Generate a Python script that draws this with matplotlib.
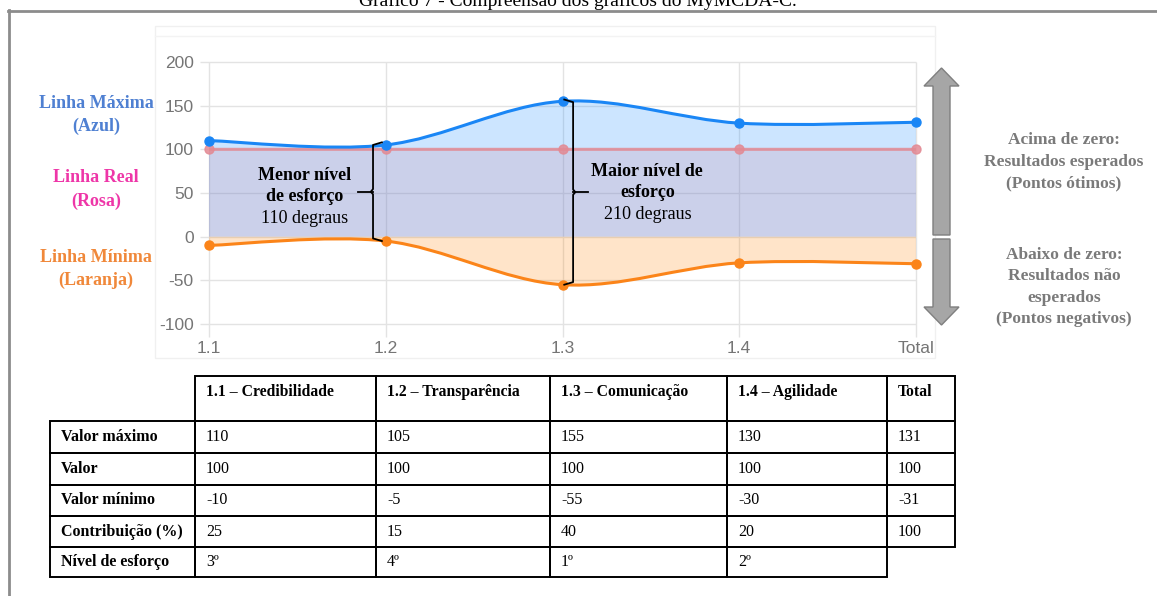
import numpy as np
import matplotlib.pyplot as plt
from matplotlib.path import Path
from matplotlib.patches import PathPatch, Rectangle, FancyArrow

# series values per criterion
categories = ["1.1", "1.2", "1.3", "1.4", "Total"]
max_line = [110, 105, 155, 130, 131]
real_line = [100, 100, 100, 100, 100]
min_line = [-10, -5, -55, -30, -31]
contribution = [25, 15, 40, 20, 100]
effort_level = ["3º", "4º", "1º", "2º"]
y_ticks = [-100, -50, 0, 50, 100, 150, 200]

table_header = ["1.1 – Credibilidade", "1.2 – Transparência", "1.3 – Comunicação",
                "1.4 – Agilidade", "Total"]
row_labels = ["Valor máximo", "Valor", "Valor mínimo", "Contribuição (%)", "Nível de esforço"]

SERIF = "Liberation Serif"
SANS = "Liberation Sans"
BLUE = "#1a86f5"
ORANGE = "#fb8419"
PINK = "#e38a94"
TICK_GRAY = "#757575"

W, H = 1157, 596

plt.rcParams["axes.unicode_minus"] = False


def smooth_path(xs, ys):
    # cubic bezier through every point, tangents from the neighbours
    verts = [(xs[0], ys[0])]
    codes = [Path.MOVETO]
    n = len(xs)
    for i in range(n - 1):
        a = max(i - 1, 0)
        b = min(i + 2, n - 1)
        c1 = (xs[i] + (xs[i + 1] - xs[a]) / 6, ys[i] + (ys[i + 1] - ys[a]) / 6)
        c2 = (xs[i + 1] - (xs[b] - xs[i]) / 6, ys[i + 1] - (ys[b] - ys[i]) / 6)
        verts += [c1, c2, (xs[i + 1], ys[i + 1])]
        codes += [Path.CURVE4] * 3
    return verts, codes


def area_path(xs, ys):
    verts, codes = smooth_path(xs, ys)
    verts = verts + [(xs[-1], 0), (xs[0], 0), (xs[0], ys[0])]
    codes = codes + [Path.LINETO, Path.LINETO, Path.CLOSEPOLY]
    return Path(verts, codes)


def brace(ax, x, top, bottom, hook, tick):
    # vertical curly bracket: hooks point towards the data point, tick away from it
    mid = (top + bottom) / 2
    ax.plot([x + hook, x, x, x - tick * 0.15, x, x, x + hook],
            [top, top - 3, mid + 3, mid, mid - 3, bottom + 3, bottom],
            color="black", lw=1.3, clip_on=False, zorder=6, solid_joinstyle="round")
    ax.plot([x, x - tick], [mid, mid], color="black", lw=1.3, clip_on=False, zorder=6)


fig = plt.figure(figsize=(W / 100, H / 100), dpi=100)

# page layer in pixel coordinates
page = fig.add_axes([0, 0, 1, 1])
page.set_xlim(0, W)
page.set_ylim(H, 0)
page.axis("off")

page.text(578, 6, "Gráfico 7 - Compreensão dos gráficos do MyMCDA-C.", ha="center",
          va="baseline", fontsize=14, family=SERIF)
page.plot([8, W], [10.5, 10.5], color="#8c8c8c", lw=2)
page.plot([8.5, 8.5], [10, H], color="#8c8c8c", lw=2)

# faint frame of the chart screenshot
page.add_patch(Rectangle((155, 26), 780, 332, fill=False, ec="#f0f0f0", lw=1))
page.plot([155, 935], [36, 36], color="#f3f3f3", lw=1)

# side labels
left_labels = [("Linha Máxima", "(Azul)", "#4f80d2", 103),
               ("Linha Real", "(Rosa)", "#ee36a8", 178),
               ("Linha Mínima", "(Laranja)", "#f0883a", 257)]
for l1, l2, col, y in left_labels:
    page.text(96, y, l1, ha="center", va="center", color=col, fontsize=13,
              fontweight="bold", family=SERIF)
    page.text(96, y + 23, l2, ha="center", va="center", color=col, fontsize=13,
              fontweight="bold", family=SERIF)

right_top = ["Acima de zero:", "Resultados esperados", "(Pontos ótimos)"]
right_bottom = ["Abaixo de zero:", "Resultados não", "esperados", "(Pontos negativos)"]
for i, s in enumerate(right_top):
    page.text(1064, 140 + 21.5 * i, s, ha="center", va="center", color="#7a7a7a",
              fontsize=12.5, fontweight="bold", family=SERIF)
for i, s in enumerate(right_bottom):
    page.text(1064, 255 + 21.3 * i, s, ha="center", va="center", color="#7a7a7a",
              fontsize=12.5, fontweight="bold", family=SERIF)

# gray arrows above / below zero
page.add_patch(FancyArrow(941.5, 235, 0, -167, width=17, head_width=35, head_length=18,
                          length_includes_head=True, fc="#a6a6a6", ec="#7f7f7f", lw=1))
page.add_patch(FancyArrow(941.5, 239, 0, 86, width=17, head_width=35, head_length=18,
                          length_includes_head=True, fc="#a6a6a6", ec="#7f7f7f", lw=1))

# table
col_x = [50, 195, 376, 550, 727, 887, 955]
row_y = [376, 421, 453, 485, 516, 547, 577]
body = [max_line, real_line, min_line, contribution, effort_level]
for j, head in enumerate(table_header):
    page.add_patch(Rectangle((col_x[j + 1], row_y[0]), col_x[j + 2] - col_x[j + 1],
                             row_y[1] - row_y[0], fill=False, ec="black", lw=1.4))
    page.text(col_x[j + 1] + 11, row_y[0] + 16, head, ha="left", va="center",
              fontsize=11.3, fontweight="bold", family=SERIF)
for i, label in enumerate(row_labels):
    y0, y1 = row_y[i + 1], row_y[i + 2]
    ym = (y0 + y1) / 2
    page.add_patch(Rectangle((col_x[0], y0), col_x[1] - col_x[0], y1 - y0,
                             fill=False, ec="black", lw=1.4))
    page.text(col_x[0] + 11, ym, label, ha="left", va="center", fontsize=11.5,
              fontweight="bold", family=SERIF)
    for j, v in enumerate(body[i]):
        page.add_patch(Rectangle((col_x[j + 1], y0), col_x[j + 2] - col_x[j + 1], y1 - y0,
                                 fill=False, ec="black", lw=1.4))
        page.text(col_x[j + 1] + 11, ym, str(v), ha="left", va="center", fontsize=11.5,
                  family=SERIF)

# chart
ax = fig.add_axes([209 / W, (H - 324) / H, 707 / W, 262 / H])
ax.patch.set_alpha(0)
x = np.arange(len(categories))
ax.set_xlim(0, len(categories) - 1)
ax.set_ylim(-100, 200)
for s in ax.spines.values():
    s.set_visible(False)

ax.hlines(y_ticks, -0.05, x[-1], color="#e3e3e3", lw=1, zorder=0, clip_on=False)
ax.vlines(x, -115, 200, color="#e3e3e3", lw=1, zorder=0, clip_on=False)

ax.add_patch(PathPatch(area_path(x, max_line), fc="#1a8cff", alpha=0.22, ec="none", zorder=1))
ax.add_patch(PathPatch(area_path(x, real_line), fc="#c87d96", alpha=0.2, ec="none", zorder=1))
ax.add_patch(PathPatch(area_path(x, min_line), fc="#ff8000", alpha=0.21, ec="none", zorder=1))

for vals, col, a in [(real_line, PINK, 0.85), (max_line, BLUE, 1), (min_line, ORANGE, 1)]:
    v, c = smooth_path(x, vals)
    ax.add_patch(PathPatch(Path(v, c), fill=False, ec=col, lw=2.2, alpha=a, zorder=3))
    ax.plot(x, vals, "o", color=col, ms=6.5, alpha=a, zorder=4, clip_on=False)

ax.set_xticks(x, categories)
ax.set_yticks(y_ticks)
ax.tick_params(length=0, labelcolor=TICK_GRAY, labelsize=12.5)
ax.tick_params(axis="x", pad=12)
ax.tick_params(axis="y", pad=11)
for lab in ax.get_xticklabels() + ax.get_yticklabels():
    lab.set_family(SANS)

# effort brackets: smallest (1.2) and largest (1.3) spans between max and min
spans = [mx - mn for mx, mn in zip(max_line[:4], min_line[:4])]
lo, hi = int(np.argmin(spans)), int(np.argmax(spans))
brace(ax, lo - 0.072, max_line[lo] + 3, min_line[lo], 0.05, 0.085)
brace(ax, hi + 0.06, max_line[hi] + 2, min_line[hi], -0.05, -0.085)

ax.text(0.54, 69.5, "Menor nível", ha="center", va="center", fontsize=13,
        fontweight="bold", family=SERIF, zorder=6)
ax.text(0.54, 45.5, "de esforço", ha="center", va="center", fontsize=13,
        fontweight="bold", family=SERIF, zorder=6)
ax.text(0.54, 20.5, f"{spans[lo]} degraus", ha="center", va="center", fontsize=13,
        family=SERIF, zorder=6)
ax.text(2.48, 75, "Maior nível de", ha="center", va="center", fontsize=13,
        fontweight="bold", family=SERIF, zorder=6)
ax.text(2.48, 50, "esforço", ha="center", va="center", fontsize=13,
        fontweight="bold", family=SERIF, zorder=6)
ax.text(2.48, 25, f"{spans[hi]} degraus", ha="center", va="center", fontsize=13,
        family=SERIF, zorder=6)

fig.savefig("out.png", dpi=100)
